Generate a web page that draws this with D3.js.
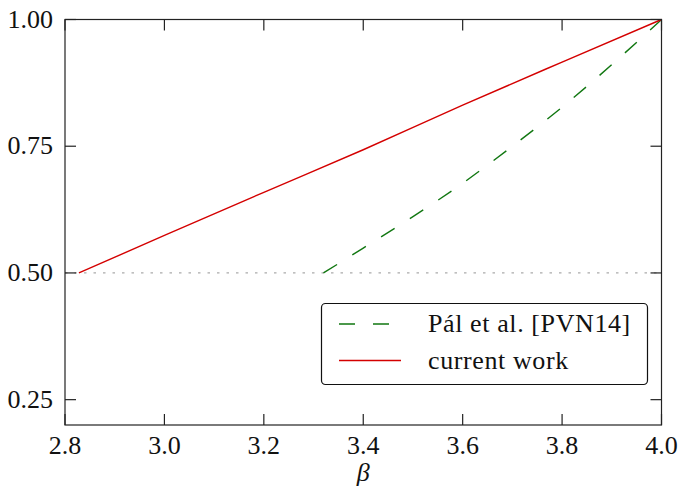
<!DOCTYPE html>
<html lang="en">
<head>
  <meta charset="UTF-8" />
  <title>beta comparison</title>
  <script src="https://cdn.jsdelivr.net/npm/d3@7"></script>
  <style>
    html, body { margin: 0; padding: 0; background: #fff; }
    svg { display: block; }
  </style>
</head>
<body>
  <script>
    // Data
    const xTicks = [2.8, 3.0, 3.2, 3.4, 3.6, 3.8, 4.0];
    const yTicks = [0.25, 0.50, 0.75, 1.00];

    // current work (red, solid)
    const currentBeta = [2.828, 3.0, 3.2, 3.4, 3.6, 3.8, 4.0];
    const currentVal  = [0.500, 0.574, 0.659, 0.743, 0.831, 0.916, 1.000];

    // Pál et al. [PVN14] (green, dashed)
    const palBeta = [3.32, 3.40, 3.50, 3.60, 3.70, 3.80, 3.90, 4.00];
    const palVal  = [0.500, 0.549, 0.611, 0.677, 0.750, 0.827, 0.911, 1.000];

    const legendLabels = ["Pál et al. [PVN14]", "current work"];

    const width = 681, height = 494;
    const margin = { left: 65, right: 19.5, top: 19.5, bottom: 69 };
    const font = '"Liberation Serif"';

    const svg = d3.select("body").append("svg")
      .attr("width", width)
      .attr("height", height);

    const x = d3.scaleLinear()
      .domain([2.8, 4.0])
      .range([margin.left, width - margin.right]);
    const y = d3.scaleLinear()
      .domain([0.2, 1.0])
      .range([height - margin.bottom, margin.top]);

    const x0 = x.range()[0], x1 = x.range()[1];
    const y0 = y.range()[0], y1 = y.range()[1];

    // reference line at 0.5
    svg.append("line")
      .attr("x1", x0).attr("x2", x1)
      .attr("y1", y(0.5)).attr("y2", y(0.5))
      .attr("stroke", "#aaa")
      .attr("stroke-width", 1.3)
      .attr("stroke-dasharray", "2.5,7");

    const line = d3.line()
      .x(d => x(d[0]))
      .y(d => y(d[1]))
      .curve(d3.curveMonotoneX);

    svg.append("path")
      .datum(palBeta.map((b, i) => [b, palVal[i]]))
      .attr("d", line)
      .attr("fill", "none")
      .attr("stroke", "#117711")
      .attr("stroke-width", 1.4)
      .attr("stroke-dasharray", "16,18");

    svg.append("path")
      .datum(currentBeta.map((b, i) => [b, currentVal[i]]))
      .attr("d", line)
      .attr("fill", "none")
      .attr("stroke", "#d40000")
      .attr("stroke-width", 1.4);

    // frame
    svg.append("rect")
      .attr("x", x0).attr("y", y1)
      .attr("width", x1 - x0).attr("height", y0 - y1)
      .attr("fill", "none")
      .attr("stroke", "#222")
      .attr("stroke-width", 1.2);

    // ticks on all four sides, pointing inwards
    const tickLen = 11;
    const tg = svg.append("g").attr("stroke", "#222").attr("stroke-width", 1.2);
    xTicks.forEach(t => {
      tg.append("line").attr("x1", x(t)).attr("x2", x(t)).attr("y1", y0).attr("y2", y0 - tickLen);
      tg.append("line").attr("x1", x(t)).attr("x2", x(t)).attr("y1", y1).attr("y2", y1 + tickLen);
    });
    yTicks.forEach(t => {
      tg.append("line").attr("y1", y(t)).attr("y2", y(t)).attr("x1", x0).attr("x2", x0 + tickLen);
      tg.append("line").attr("y1", y(t)).attr("y2", y(t)).attr("x1", x1).attr("x2", x1 - tickLen);
    });

    // tick labels
    svg.append("g").selectAll("text")
      .data(xTicks).join("text")
      .attr("x", d => x(d))
      .attr("y", y0 + 29)
      .attr("text-anchor", "middle")
      .style("font-family", font)
      .style("font-size", "26px")
      .style("fill", "#111")
      .text(d => d.toFixed(1));

    svg.append("g").selectAll("text")
      .data(yTicks).join("text")
      .attr("x", x0 - 12)
      .attr("y", d => y(d) + 8)
      .attr("text-anchor", "end")
      .style("font-family", font)
      .style("font-size", "26px")
      .style("fill", "#111")
      .text(d => d.toFixed(2));

    // axis label
    svg.append("text")
      .attr("x", x(3.4))
      .attr("y", y0 + 56)
      .attr("text-anchor", "middle")
      .style("font-family", font)
      .style("font-size", "26px")
      .style("font-style", "italic")
      .style("fill", "#111")
      .text("β");

    // legend
    const lg = svg.append("g");
    lg.append("rect")
      .attr("x", 321.5).attr("y", 303.5)
      .attr("width", 326).attr("height", 81)
      .attr("rx", 4)
      .attr("fill", "#fff")
      .attr("stroke", "#111")
      .attr("stroke-width", 1.2);

    const legendStyles = [
      { color: "#117711", dash: "16,18" },
      { color: "#d40000", dash: null }
    ];
    legendLabels.forEach((label, i) => {
      const cy = 324 + i * 36.5;
      lg.append("line")
        .attr("x1", 339).attr("x2", 401)
        .attr("y1", cy).attr("y2", cy)
        .attr("stroke", legendStyles[i].color)
        .attr("stroke-width", 1.4)
        .attr("stroke-dasharray", legendStyles[i].dash);
      lg.append("text")
        .attr("x", 428)
        .attr("y", cy + 8)
        .style("font-family", font)
        .style("font-size", "26px")
        .style("letter-spacing", "0.6px")
        .style("fill", "#111")
        .text(label);
    });
  </script>
</body>
</html>
